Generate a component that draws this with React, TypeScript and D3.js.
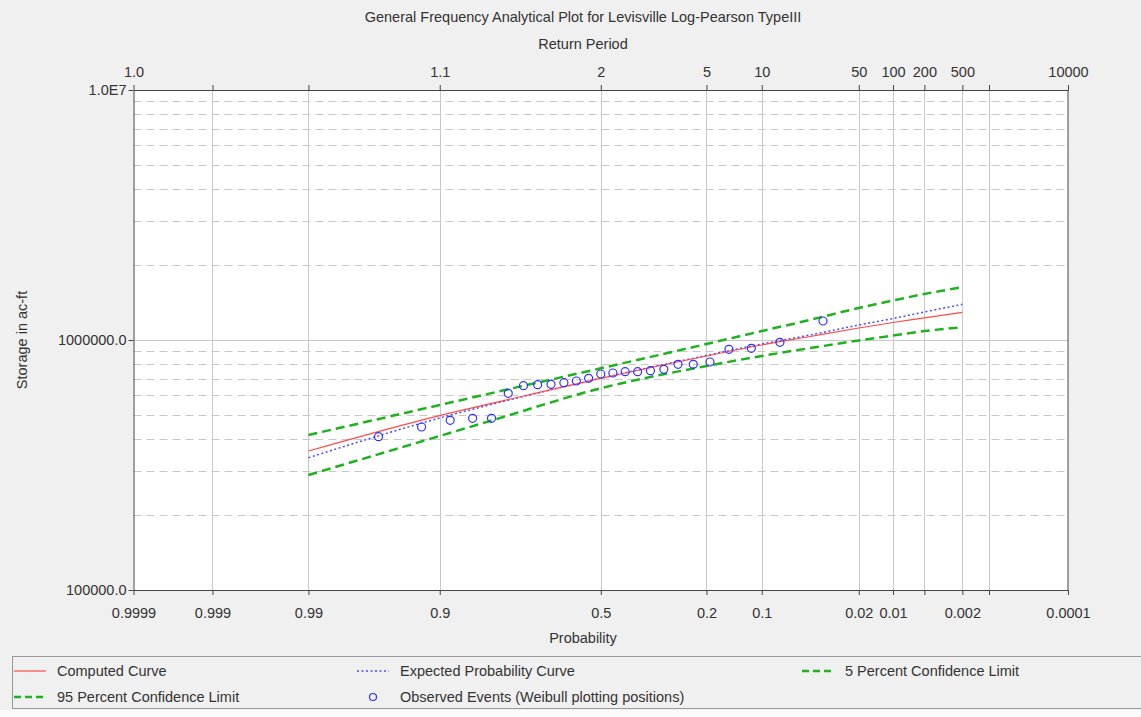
import React, { useEffect, useRef } from "react";
import * as d3 from "d3";

// exceedance probabilities where the fitted curves were read
const curveProbs = [0.99, 0.9, 0.8, 0.5, 0.2, 0.1, 0.05, 0.02, 0.01, 0.005, 0.002];
const computedCurve = [359700, 498400, 561400, 702700, 863000, 955000, 1028000, 1117000, 1175000, 1225000, 1290000];
const expectedCurve = [338200, 487500, 557200, 702700, 867000, 963800, 1042000, 1148000, 1219000, 1294000, 1389000];
const conf5 = [416900, 549500, 617900, 770500, 963800, 1086000, 1197000, 1343000, 1439000, 1528000, 1625000];
const conf95 = [288400, 413000, 480800, 641100, 787000, 863000, 924700, 995400, 1042000, 1086000, 1124000];

// observed annual events, ranked largest first (Weibull p = m / (n + 1))
const observed = [
  1191000, 979000, 926400, 918000, 816600, 799500, 799500, 763500, 753700, 746800,
  746800, 738000, 731100, 702700, 685500, 674900, 665100, 662600, 656600, 612100,
  486200, 486200, 477300, 448700, 410500,
];

const probTicks = [0.9999, 0.999, 0.99, 0.9, 0.5, 0.2, 0.1, 0.02, 0.01, 0.005, 0.002, 0.001, 0.0001];
const probLabels = ["0.9999", "0.999", "0.99", "0.9", "0.5", "0.2", "0.1", "0.02", "0.01", "", "0.002", "", "0.0001"];
const returnLabels = ["1.0", "", "", "1.1", "2", "5", "10", "50", "100", "200", "500", "", "10000"];
const yTicks = [1e5, 1e6, 1e7];
const yLabels = ["100000.0", "1000000.0", "1.0E7"];

// inverse standard normal cdf (Acklam)
function qnorm(p: number): number {
  const a = [-39.69683028665376, 220.9460984245205, -275.9285104469687, 138.357751867269, -30.66479806614716, 2.506628277459239];
  const b = [-54.47609879822406, 161.5858368580409, -155.6989798598866, 66.80131188771972, -13.28068155288572];
  const c = [-0.007784894002430293, -0.3223964580411365, -2.400758277161838, -2.549732539343734, 4.374664141464968, 2.938163982698783];
  const d = [0.007784695709041462, 0.3224671290700398, 2.445134137142996, 3.754408661907416];
  const pl = 0.02425;
  if (p < pl) {
    const q = Math.sqrt(-2 * Math.log(p));
    return (((((c[0] * q + c[1]) * q + c[2]) * q + c[3]) * q + c[4]) * q + c[5]) / ((((d[0] * q + d[1]) * q + d[2]) * q + d[3]) * q + 1);
  }
  if (p > 1 - pl) {
    const q = Math.sqrt(-2 * Math.log(1 - p));
    return -(((((c[0] * q + c[1]) * q + c[2]) * q + c[3]) * q + c[4]) * q + c[5]) / ((((d[0] * q + d[1]) * q + d[2]) * q + d[3]) * q + 1);
  }
  const q = p - 0.5;
  const r = q * q;
  return ((((((a[0] * r + a[1]) * r + a[2]) * r + a[3]) * r + a[4]) * r + a[5]) * q) / (((((b[0] * r + b[1]) * r + b[2]) * r + b[3]) * r + b[4]) * r + 1);
}

const W = 1141;
const H = 717;
const FONT = "'Liberation Sans', Arial, sans-serif";
const FS = 14.5;

const App = () => {
  const ref = useRef<SVGSVGElement>(null);

  useEffect(() => {
    const svg = d3.select(ref.current);
    svg.selectAll("*").remove();

    const left = 133.5, right = 1068, top = 90, bottom = 590;
    const zMax = qnorm(1 - 0.0001);

    const xz = d3.scaleLinear().domain([-zMax, zMax]).range([left, right]);
    const x = (p: number) => xz(qnorm(1 - p));
    const y = d3.scaleLog().domain([1e5, 1e7]).range([bottom, top]);

    svg.append("rect").attr("width", W).attr("height", H).attr("fill", "#f0f0f0");
    svg.append("rect").attr("x", left).attr("y", top).attr("width", right - left).attr("height", bottom - top).attr("fill", "#fff");

    // minor log gridlines (dashed)
    const minor: number[] = [];
    [1e5, 1e6].forEach((dec) => d3.range(2, 10).forEach((k) => minor.push(k * dec)));
    svg.append("g").selectAll("line").data(minor).join("line")
      .attr("x1", left).attr("x2", right)
      .attr("y1", (d) => Math.round(y(d)) + 0.5).attr("y2", (d) => Math.round(y(d)) + 0.5)
      .attr("stroke", "#c8c8c8").attr("stroke-dasharray", "8,5");

    // major horizontal and vertical gridlines
    svg.append("line").attr("x1", left).attr("x2", right)
      .attr("y1", Math.round(y(1e6)) + 0.5).attr("y2", Math.round(y(1e6)) + 0.5).attr("stroke", "#c8c8c8");
    svg.append("g").selectAll("line").data(probTicks.slice(1, -1)).join("line")
      .attr("x1", (d) => Math.round(x(d)) + 0.5).attr("x2", (d) => Math.round(x(d)) + 0.5)
      .attr("y1", top).attr("y2", bottom).attr("stroke", "#c8c8c8");

    // axes
    const axisCol = "#444";
    const styleAxis = (g: any) => {
      g.select(".domain").attr("stroke", axisCol);
      g.selectAll(".tick line").attr("stroke", axisCol);
      g.selectAll("text").attr("fill", "#333").attr("font-family", FONT).attr("font-size", FS);
    };
    const zTicks = probTicks.map((p) => qnorm(1 - p));
    svg.append("g").attr("transform", `translate(0,${bottom})`)
      .call(d3.axisBottom(xz).tickValues(zTicks).tickSize(5).tickSizeOuter(0).tickPadding(13)
        .tickFormat((d, i) => probLabels[i]))
      .call(styleAxis);
    svg.append("g").attr("transform", `translate(0,${top})`)
      .call(d3.axisTop(xz).tickValues(zTicks).tickSize(5).tickSizeOuter(0).tickPadding(8)
        .tickFormat((d, i) => returnLabels[i]))
      .call(styleAxis);
    svg.append("g").attr("transform", `translate(${left},0)`)
      .call(d3.axisLeft(y).tickValues(yTicks).tickSize(5).tickSizeOuter(0).tickPadding(2)
        .tickFormat((d, i) => yLabels[i]))
      .call(styleAxis);
    svg.append("line").attr("x1", right).attr("x2", right).attr("y1", top).attr("y2", bottom).attr("stroke", axisCol);

    // curves
    const line = d3.line<number>().x((d, i) => x(curveProbs[i])).y((d) => y(d)).curve(d3.curveMonotoneX);
    const series = [
      { data: conf95, color: "#1eb31e", width: 2.5, dash: "9,5" },
      { data: conf5, color: "#1eb31e", width: 2.5, dash: "9,5" },
      { data: expectedCurve, color: "#4a4aff", width: 1.5, dash: "2,2.5" },
      { data: computedCurve, color: "#ff4a4a", width: 1.2, dash: null },
    ];
    series.forEach((s) => {
      svg.append("path").attr("d", line(s.data)).attr("fill", "none")
        .attr("stroke", s.color).attr("stroke-width", s.width)
        .attr("stroke-dasharray", s.dash);
    });

    // observed points
    const n = observed.length;
    svg.append("g").selectAll("circle").data(observed).join("circle")
      .attr("cx", (d, i) => x((i + 1) / (n + 1)))
      .attr("cy", (d) => y(d))
      .attr("r", 4).attr("fill", "none").attr("stroke", "#3030ff").attr("stroke-width", 1.2);

    // titles
    const txt = (t: string, tx: number, ty: number) =>
      svg.append("text").text(t).attr("x", tx).attr("y", ty)
        .attr("text-anchor", "middle").attr("dominant-baseline", "central")
        .attr("font-family", FONT).attr("font-size", FS).attr("fill", "#333");
    txt("General Frequency Analytical Plot for Levisville Log-Pearson TypeIII", 583, 17);
    txt("Return Period", 583, 44);
    txt("Probability", 583, 638);
    txt("Storage in ac-ft", 0, 0).attr("transform", "translate(22,340) rotate(-90)");

    // legend
    svg.append("rect").attr("x", 12.5).attr("y", 656.5).attr("width", W).attr("height", 52)
      .attr("fill", "#f0f0f0").attr("stroke", "#999");
    svg.append("rect").attr("x", 0).attr("y", 710).attr("width", W).attr("height", 7).attr("fill", "#fafafa");
    const legend = [
      { label: "Computed Curve", lx: 14, ly: 671, color: "#ff4a4a", width: 1.2, dash: null, marker: false },
      { label: "Expected Probability Curve", lx: 357, ly: 671, color: "#4a4aff", width: 1.5, dash: "2,2.5", marker: false },
      { label: "5 Percent Confidence Limit", lx: 802, ly: 671, color: "#1eb31e", width: 2.5, dash: "7,4", marker: false },
      { label: "95 Percent Confidence Limit", lx: 14, ly: 697, color: "#1eb31e", width: 2.5, dash: "7,4", marker: false },
      { label: "Observed Events (Weibull plotting positions)", lx: 357, ly: 697, color: "#3030ff", width: 1.2, dash: null, marker: true },
    ];
    legend.forEach((l) => {
      if (l.marker) {
        svg.append("circle").attr("cx", l.lx + 16).attr("cy", l.ly).attr("r", 3.5)
          .attr("fill", "none").attr("stroke", l.color).attr("stroke-width", l.width);
      } else {
        svg.append("line").attr("x1", l.lx).attr("x2", l.lx + 32).attr("y1", l.ly).attr("y2", l.ly)
          .attr("stroke", l.color).attr("stroke-width", l.width).attr("stroke-dasharray", l.dash);
      }
      svg.append("text").text(l.label).attr("x", l.lx + 43).attr("y", l.ly)
        .attr("dominant-baseline", "central").attr("font-family", FONT).attr("font-size", FS).attr("fill", "#333");
    });
  }, []);

  return (
    <div style={{ position: "absolute", left: 0, top: 0 }}>
      <svg ref={ref} width={W} height={H} style={{ display: "block" }} />
    </div>
  );
};

export default App;
